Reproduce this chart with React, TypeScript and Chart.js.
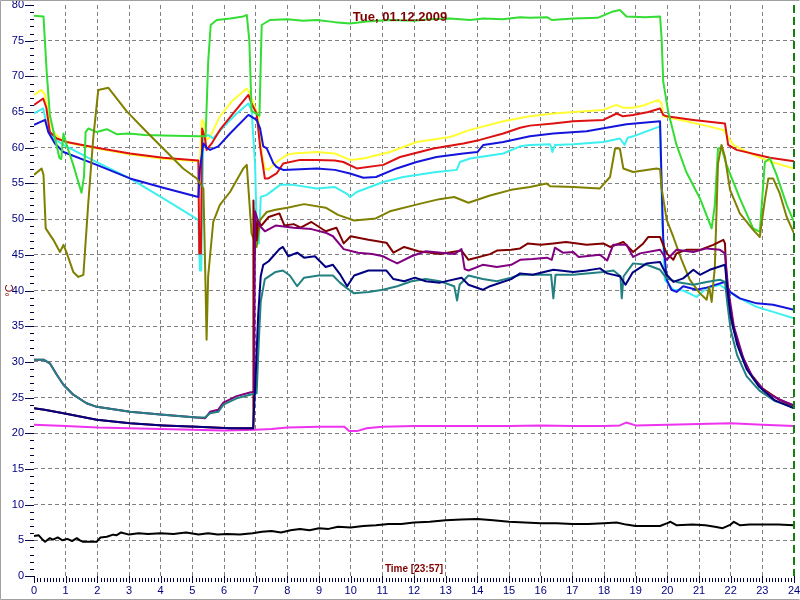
import React, { useEffect, useRef } from "react";
import { Chart, registerables } from "chart.js";

Chart.register(...registerables);

const TITLE = "Tue, 01.12.2009";
const X_TITLE = "Time [23:57]";
const Y_TITLE = "°C";
const X_MIN = 0;
const X_MAX = 24;
const Y_MIN = 0;
const Y_MAX = 80;
const X_TICK_LABELS = Array.from({ length: 25 }, (_, i) => String(i));
const Y_TICK_LABELS = ["0", "5", "10", "15", "20", "25", "30", "35", "40", "45", "50", "55", "60", "65", "70", "75", "80"];
const CURSOR_HOUR = 24;

type P = [number, number];

const GREEN: P[] = [
  [0, 78.5], [0.3, 78.4], [0.4, 70.7], [0.5, 64.6], [0.66, 61.4], [0.8, 58.6], [0.86, 58.4], [0.93, 62], [1.03, 60.4],
  [1.24, 57.6], [1.5, 53.7], [1.58, 56], [1.63, 62.2], [1.72, 62.7], [1.98, 62.2], [2.3, 62.6], [2.61, 61.9], [3.0, 62.0],
  [3.5, 61.8], [4.08, 61.7], [5.19, 61.6], [5.42, 61.6], [5.5, 72], [5.58, 77.2], [5.77, 77.9], [6.2, 78.1], [6.61, 78.4],
  [6.72, 78.6], [6.8, 75], [6.87, 65.2], [7.0, 64.8], [7.12, 64.5], [7.19, 77.2], [7.45, 77.9], [8.0, 78.0], [8.5, 77.8],
  [8.93, 77.9], [9.5, 77.6], [9.98, 77.4], [10.5, 77.7], [11.24, 77.9], [12.0, 77.8], [12.5, 78.0], [13.14, 78.1],
  [13.77, 77.9], [14.19, 78.1], [14.8, 78.0], [15.35, 78.3], [15.66, 78.2], [16.2, 78.3], [16.35, 77.9], [17.03, 78.1],
  [17.8, 78.2], [18.29, 79.1], [18.5, 79.3], [18.71, 78.4], [19.3, 78.3], [19.77, 78.4], [19.82, 75.3], [19.87, 69.3],
  [20.03, 65], [20.29, 60.4], [20.6, 56.6], [21.03, 52.9], [21.4, 48.7], [21.5, 52], [21.6, 59.9], [21.71, 60],
  [21.87, 57.6], [22.29, 52.9], [22.71, 48.7], [22.92, 48.2], [23.08, 58], [23.24, 58.5], [23.45, 56.2], [23.77, 52], [24, 49.6],
];

const YELLOW: P[] = [
  [0, 67.4], [0.24, 68.1], [0.35, 67.4], [0.45, 64.6], [0.61, 62.2], [0.87, 61.1], [1.2, 60.6], [2.0, 59.9], [3.0, 59.1],
  [4.0, 58.5], [5.19, 58.1], [5.24, 58.3], [5.3, 63.9], [5.36, 63.5], [5.45, 61.1], [5.56, 61.5], [5.87, 64.4], [6.29, 66.7],
  [6.72, 68.3], [6.82, 67.6], [7.08, 64.4], [7.2, 59], [7.29, 57.1], [7.4, 56.9], [7.66, 58.0], [7.98, 59.0], [8.19, 59.2],
  [8.93, 59.4], [9.5, 59.2], [9.98, 58.3], [10.4, 58.5], [11.24, 59.4], [12.08, 60.8], [13.14, 61.5], [13.77, 62.5],
  [14.82, 63.7], [15.66, 64.4], [16.4, 64.8], [17.03, 65.0], [17.98, 65.3], [18.4, 66.0], [18.6, 65.6], [18.92, 65.6],
  [19.3, 66.0], [19.71, 66.7], [19.82, 66.2], [19.87, 64.4], [20.6, 63.7], [21.2, 63.1], [21.77, 62.5], [22.08, 60.4],
  [22.71, 59.0], [23.3, 58.0], [24, 57.1],
];

const RED: P[] = [
  [0, 66], [0.29, 66.9], [0.39, 65.6], [0.5, 62.2], [0.72, 61.3], [1.03, 60.8], [1.98, 60.0], [3.03, 59.2], [4.08, 58.6],
  [5.19, 58.2], [5.22, 45.2], [5.27, 45.2], [5.31, 62.7], [5.4, 61.3], [5.45, 59.7], [5.61, 60.6], [5.87, 62.5],
  [6.29, 64.8], [6.77, 67.4], [6.87, 66.2], [7.03, 64.8], [7.14, 60.2], [7.29, 55.7], [7.4, 55.7], [7.66, 56.4],
  [7.87, 57.8], [8.4, 58.3], [8.93, 58.3], [9.5, 58.2], [9.77, 58.0], [10.19, 57.1], [11.03, 57.6], [11.56, 58.7],
  [12.61, 59.9], [13.56, 60.6], [14.08, 61.1], [14.82, 62.0], [15.35, 62.8], [15.66, 63.1], [16.4, 63.4], [17.03, 63.7],
  [17.98, 63.9], [18.4, 64.8], [18.6, 64.4], [18.92, 64.6], [19.4, 65.0], [19.77, 65.5], [19.87, 64.6], [19.98, 64.4],
  [20.82, 63.9], [21.82, 63.4], [21.92, 60.4], [22.19, 59.7], [23.24, 58.6], [24, 58.1],
];

const CYAN: P[] = [
  [0, 64.8], [0.29, 65.5], [0.4, 63.2], [0.61, 61.3], [0.93, 60.4], [1.98, 58.0], [3.03, 55.7], [4.08, 52.9], [5.19, 49.9],
  [5.24, 42.8], [5.28, 42.8], [5.35, 61.5], [5.5, 61.8], [5.66, 61.3], [5.98, 62.9], [6.4, 64.8], [6.77, 66.2], [6.87, 65.3],
  [6.98, 57.8], [7.03, 49.4], [7.1, 46.6], [7.16, 53.1], [7.35, 53.4], [7.77, 54.8], [8.19, 54.8], [8.93, 54.3], [9.5, 54.5],
  [9.9, 53.5], [9.98, 53.1], [10.19, 53.8], [11.03, 55.2], [11.66, 55.9], [12.71, 56.6], [13.35, 56.9], [13.45, 58.0],
  [13.77, 58.5], [14.82, 59.2], [15.35, 60.2], [15.66, 60.4], [16.3, 60.5], [16.37, 59.4], [16.45, 60.4], [17.03, 60.5],
  [17.98, 60.8], [18.5, 61.3], [18.65, 60.4], [18.75, 61.4], [18.92, 61.6], [19.77, 63.0], [19.84, 49.4], [19.92, 41.5],
  [20.19, 40.1], [20.5, 40.0], [20.92, 39.1], [21.24, 40.3], [21.66, 40.8], [21.87, 40.1], [22.19, 39.1], [22.82, 37.7],
  [23.34, 37.0], [24, 36.1],
];

const BLUE: P[] = [
  [0, 63.2], [0.35, 63.9], [0.45, 62.2], [0.66, 60.6], [0.93, 59.4], [1.98, 57.6], [3.03, 55.7], [4.08, 54.4], [5.19, 53.1],
  [5.24, 57.1], [5.35, 60.6], [5.45, 60.0], [5.56, 59.7], [5.82, 60.2], [6.19, 62.0], [6.77, 64.6], [7.03, 63.9],
  [7.14, 62.7], [7.24, 60.2], [7.35, 59.9], [7.56, 57.8], [7.66, 57.3], [7.87, 56.9], [8.93, 57.1], [9.5, 56.9],
  [9.98, 56.4], [10.4, 55.8], [10.8, 55.9], [11.45, 57.1], [12.08, 58.0], [12.71, 58.7], [13.56, 59.2], [14.0, 59.4],
  [14.19, 60.4], [14.82, 60.8], [15.66, 61.6], [16.4, 62.0], [17.45, 62.3], [18.71, 63.3], [19.77, 63.7], [19.82, 55],
  [19.87, 47.3], [19.98, 41.5], [20.13, 40.1], [20.29, 39.8], [20.5, 40.6], [20.92, 40.1], [21.24, 40.4], [21.66, 41.0],
  [21.82, 41.2], [21.98, 39.8], [22.29, 38.9], [22.82, 38.2], [23.34, 38.0], [24, 37.3],
];

const OLIVE: P[] = [
  [0, 56.2], [0.24, 57.1], [0.3, 56.2], [0.37, 48.7], [0.61, 47.1], [0.82, 45.4], [0.93, 46.4], [1.03, 45.3], [1.24, 42.6],
  [1.4, 41.9], [1.56, 42.2], [1.71, 52], [1.87, 61.3], [2.03, 68.1], [2.35, 68.4], [2.93, 65.1], [3.56, 62.2], [4.08, 59.9],
  [4.71, 57.1], [5.14, 55.7], [5.35, 54.3], [5.42, 40], [5.45, 33.1], [5.5, 42], [5.66, 49.6], [5.87, 52.0], [6.19, 53.8],
  [6.61, 57.1], [6.72, 57.6], [6.87, 48.0], [7.03, 46.1], [7.14, 49.9], [7.35, 51.0], [7.63, 51.3], [8.0, 51.6],
  [8.53, 52.1], [9.21, 51.6], [9.6, 50.6], [10.11, 49.8], [10.79, 50.1], [11.24, 51.1], [12.14, 52.1], [12.8, 52.8],
  [13.27, 53.1], [13.72, 52.3], [14.4, 53.3], [15.07, 54.1], [15.66, 54.5], [16.19, 55.0], [16.3, 54.6], [17.03, 54.5],
  [17.87, 54.3], [18.19, 55.9], [18.35, 59.9], [18.5, 59.9], [18.61, 57.1], [18.92, 56.6], [19.66, 57.1], [19.77, 57.0],
  [19.82, 54.3], [19.98, 49.9], [20.19, 47.5], [20.45, 44.3], [20.71, 41.5], [21.03, 39.6], [21.24, 38.7], [21.32, 40.5],
  [21.4, 38.4], [21.5, 43.3], [21.6, 57.8], [21.71, 60.4], [21.82, 58.7], [21.98, 54.1], [22.29, 50.8], [22.71, 48.5],
  [22.92, 47.5], [23.08, 52.7], [23.19, 55.7], [23.34, 55.7], [23.55, 53.6], [23.77, 50.3], [24, 48.0],
];

const NAVY: P[] = [
  [0, 23.5], [0.33, 23.3], [0.93, 22.8], [1.98, 21.9], [3.03, 21.4], [4.08, 21.1], [5.14, 20.9], [6.19, 20.7], [6.92, 20.7],
  [7.0, 28], [7.08, 36.6], [7.16, 42], [7.24, 43.6], [7.41, 44.1], [7.75, 45.8], [7.86, 46.1], [8.03, 44.8], [8.31, 45.3],
  [8.53, 44.6], [8.87, 44.8], [9.21, 43.3], [9.44, 43.6], [9.66, 42.3], [9.89, 40.6], [10.11, 42.1], [10.56, 42.8],
  [11.13, 42.8], [11.35, 41.6], [11.69, 41.3], [12.03, 41.8], [12.37, 41.3], [12.82, 41.1], [13.5, 41.8], [13.72, 40.8],
  [14.17, 40.1], [14.4, 40.6], [15.07, 41.6], [15.35, 42.4], [15.75, 42.2], [16.4, 42.9], [17.03, 42.6], [17.45, 42.8],
  [17.87, 43.1], [18.1, 42.4], [18.5, 42.0], [18.68, 40.8], [18.9, 42.5], [19.35, 43.8], [19.77, 44.0], [19.88, 43.0],
  [19.98, 42.2], [20.19, 41.2], [20.5, 41.7], [20.82, 42.9], [21.03, 42.2], [21.34, 42.9], [21.82, 43.6], [21.9, 40],
  [22.0, 36.5], [22.2, 32.5], [22.5, 29], [22.9, 26.5], [23.4, 24.6], [24, 23.5],
];

const MAROON: P[] = [
  [0, 23.5], [0.33, 23.3], [0.93, 22.8], [1.98, 21.9], [3.03, 21.4], [4.08, 21.1], [5.14, 20.9], [6.19, 20.7], [6.92, 20.7],
  [6.93, 52.6], [6.97, 45], [7.0, 50], [7.03, 47], [7.07, 49.6], [7.18, 49.1], [7.41, 50.3], [7.75, 50.8], [7.91, 49.1],
  [8.2, 49.3], [8.42, 48.8], [8.76, 49.6], [9.21, 48.3], [9.55, 48.8], [9.78, 46.6], [10.0, 47.6], [10.56, 47.1],
  [11.13, 46.7], [11.35, 45.3], [11.69, 46.1], [12.14, 45.5], [12.82, 45.1], [13.5, 45.6], [13.72, 44.3], [14.4, 45.1],
  [14.62, 45.6], [15.07, 45.7], [15.35, 45.9], [15.6, 46.6], [16.0, 46.4], [16.4, 46.6], [16.8, 46.8], [17.45, 46.4],
  [17.98, 46.6], [18.19, 46.1], [18.61, 46.8], [18.92, 45.4], [19.24, 46.6], [19.4, 47.5], [19.77, 47.5], [19.85, 46.6],
  [19.98, 45.2], [20.19, 44.3], [20.29, 45.2], [20.6, 45.7], [21.03, 45.7], [21.45, 46.4], [21.77, 47.1], [21.82, 46.6],
  [21.87, 41.5], [21.98, 36.8], [22.08, 34.7], [22.3, 31.5], [22.6, 28.5], [23.0, 26.3], [23.5, 24.8], [24, 23.7],
];

const PURPLE: P[] = [
  [0, 30.3], [0.3, 30.3], [0.5, 29.8], [0.72, 28.2], [0.93, 26.8], [1.24, 25.4], [1.66, 24.2], [1.98, 23.7], [3.03, 23.0],
  [4.08, 22.6], [5.14, 22.2], [5.4, 22.1], [5.56, 23.0], [5.82, 23.3], [5.98, 24.3], [6.4, 25.2], [6.82, 25.7], [6.95, 25.8],
  [6.98, 51.1], [7.12, 49.1], [7.29, 48.3], [7.63, 49.1], [8.2, 48.8], [8.76, 48.6], [9.21, 48.1], [9.44, 47.6], [9.78, 45.8],
  [10.23, 45.3], [10.68, 45.1], [11.02, 44.8], [11.24, 44.3], [11.47, 43.8], [11.92, 44.8], [12.37, 45.5], [13.27, 45.1],
  [13.5, 45.8], [13.6, 43.0], [13.72, 42.8], [14.17, 43.6], [14.62, 43.3], [15.07, 43.6], [15.35, 44.3], [15.75, 44.4],
  [16.2, 44.6], [16.35, 44.3], [16.45, 46.0], [16.7, 45.3], [17.03, 45.4], [17.2, 44.7], [17.87, 45.0], [18.1, 44.2],
  [18.29, 46.4], [18.71, 46.4], [18.92, 44.7], [19.14, 45.2], [19.77, 45.7], [19.98, 44.3], [20.29, 45.7], [20.82, 45.4],
  [21.24, 45.9], [21.66, 45.7], [21.82, 45.2], [21.92, 40.3], [22.1, 35], [22.4, 30.5], [22.7, 27.8], [23.1, 25.8],
  [23.5, 24.8], [24, 23.9],
];

const TEAL: P[] = [
  [0, 30.3], [0.3, 30.3], [0.5, 29.8], [0.72, 28.2], [0.93, 26.8], [1.24, 25.4], [1.66, 24.2], [1.98, 23.7], [3.03, 23.0],
  [4.08, 22.6], [5.14, 22.2], [5.4, 22.2], [5.56, 22.8], [5.82, 23.0], [5.98, 24.0], [6.4, 24.9], [6.82, 25.4], [7.03, 25.6],
  [7.1, 33], [7.16, 38.5], [7.29, 41.6], [7.63, 42.6], [7.86, 42.8], [8.08, 42.1], [8.31, 40.6], [8.53, 41.8], [8.99, 42.1],
  [9.44, 42.1], [9.66, 41.1], [9.89, 40.3], [10.11, 39.6], [10.56, 39.8], [11.02, 40.1], [11.47, 40.6], [11.92, 41.3],
  [12.37, 41.6], [12.82, 41.3], [13.27, 40.6], [13.36, 38.6], [13.44, 40.8], [13.72, 42.1], [14.17, 41.6], [14.62, 41.3],
  [15.07, 41.8], [15.35, 42.2], [16.33, 42.2], [16.4, 38.9], [16.47, 42.2], [17.03, 42.2], [17.98, 42.6], [18.3, 42.8],
  [18.52, 42.0], [18.56, 38.9], [18.62, 42.0], [18.92, 43.8], [19.35, 43.6], [19.77, 42.9], [19.98, 41.7], [20.29, 41.2],
  [20.82, 40.8], [21.24, 41.2], [21.66, 41.5], [21.82, 41.2], [21.9, 38], [22.0, 34.5], [22.2, 31], [22.5, 28], [22.9, 26],
  [23.4, 24.5], [24, 23.6],
];

const MAGENTA: P[] = [
  [0, 21.2], [1, 21.0], [2, 20.8], [3, 20.7], [4, 20.6], [5, 20.5], [6, 20.4], [7, 20.5], [7.5, 20.6], [8, 20.8], [9, 20.9],
  [9.8, 20.9], [9.95, 20.3], [10.2, 20.3], [10.5, 20.7], [11, 20.9], [12, 21.0], [13, 21.0], [14, 21.0], [15, 21.0],
  [16, 21.1], [17, 21.0], [18, 21.0], [18.5, 21.1], [18.7, 21.5], [19, 21.1], [20, 21.2], [21, 21.3], [22, 21.4], [23, 21.2],
  [24, 21.0],
];

const BLACK: P[] = [
  [0, 5.6], [0.15, 5.7], [0.25, 5.2], [0.35, 4.8], [0.5, 5.3], [0.6, 5.1], [0.75, 5.4], [0.9, 5.0], [1.05, 5.2], [1.2, 4.9],
  [1.35, 5.3], [1.45, 5.0], [1.55, 4.8], [1.98, 4.8], [2.1, 5.4], [2.3, 5.5], [2.5, 5.8], [2.6, 5.7], [2.75, 6.1], [3.0, 5.8],
  [3.3, 6.0], [3.6, 5.9], [4.0, 6.0], [4.4, 5.9], [4.8, 6.1], [5.2, 5.8], [5.5, 6.0], [5.8, 5.8], [6.1, 5.9], [6.5, 5.8],
  [6.9, 6.0], [7.2, 6.2], [7.5, 6.3], [7.8, 6.1], [8.1, 6.4], [8.4, 6.6], [8.7, 6.4], [9.0, 6.7], [9.3, 6.6], [9.6, 6.9],
  [10.0, 6.8], [10.4, 7.0], [10.8, 7.1], [11.2, 7.3], [11.6, 7.3], [12.0, 7.5], [12.5, 7.6], [13.0, 7.8], [13.5, 7.9],
  [14.0, 8.0], [14.5, 7.8], [15.0, 7.6], [15.5, 7.5], [16.0, 7.4], [16.5, 7.4], [17.0, 7.3], [17.5, 7.3], [18.0, 7.4],
  [18.4, 7.5], [18.7, 7.2], [19.0, 7.0], [19.5, 7.0], [19.77, 7.0], [20.0, 7.4], [20.1, 7.6], [20.3, 7.1], [20.8, 7.2],
  [21.2, 7.1], [21.5, 6.9], [21.75, 6.7], [22.0, 7.2], [22.1, 7.6], [22.3, 7.1], [22.6, 7.2], [23.0, 7.2], [23.5, 7.2],
  [24, 7.1],
];

// top-most first (Chart.js draws dataset 0 last)
const SERIES: { data: P[]; color: string }[] = [
  { data: BLACK, color: "#000000" },
  { data: NAVY, color: "#000080" },
  { data: TEAL, color: "#238080" },
  { data: PURPLE, color: "#800080" },
  { data: MAROON, color: "#800000" },
  { data: MAGENTA, color: "#ee33ee" },
  { data: OLIVE, color: "#808000" },
  { data: GREEN, color: "#33dd33" },
  { data: BLUE, color: "#1414dc" },
  { data: RED, color: "#dd1111" },
  { data: CYAN, color: "#3cf0f0" },
  { data: YELLOW, color: "#ffff33" },
];

const FONT = '"Liberation Sans", Arial, sans-serif';

const decorPlugin = {
  id: "decor",
  beforeDraw(chart: any) {
    const { ctx, width, height } = chart;
    ctx.save();
    ctx.fillStyle = "#ffffff";
    ctx.fillRect(0, 0, width, height);
    ctx.restore();
  },
  afterDraw(chart: any) {
    const { ctx, chartArea, scales, width, height } = chart;
    const xs = scales.x;
    const ys = scales.y;
    ctx.save();
    ctx.setLineDash([]);
    ctx.lineWidth = 1;
    ctx.strokeStyle = "#000040";
    // y ticks
    for (let v = Y_MIN; v <= Y_MAX; v += 1) {
      const y = Math.round(ys.getPixelForValue(v)) + 0.5;
      const major = v % 5 === 0;
      ctx.beginPath();
      ctx.moveTo(chartArea.left - (major ? 9 : 4), y);
      ctx.lineTo(chartArea.left, y);
      ctx.stroke();
    }
    // x ticks
    for (let i = X_MIN * 10; i <= X_MAX * 10; i += 1) {
      const x = Math.round(xs.getPixelForValue(i / 10)) + 0.5;
      const major = i % 10 === 0;
      ctx.beginPath();
      ctx.moveTo(x, chartArea.bottom + (major ? 0 : 2));
      ctx.lineTo(x, chartArea.bottom + (major ? 7 : 6));
      ctx.stroke();
    }
    // tick labels
    ctx.fillStyle = "#000080";
    ctx.font = `11px ${FONT}`;
    ctx.textAlign = "right";
    ctx.textBaseline = "middle";
    Y_TICK_LABELS.forEach((lab) => {
      const y = ys.getPixelForValue(Number(lab));
      ctx.fillText(lab, chartArea.left - 10, y);
    });
    ctx.textAlign = "center";
    X_TICK_LABELS.forEach((lab) => {
      const x = xs.getPixelForValue(Number(lab));
      ctx.fillText(lab, x, chartArea.bottom + 15);
    });
    // cursor line
    ctx.strokeStyle = "#108010";
    ctx.lineWidth = 2;
    ctx.setLineDash([8, 4]);
    const cx = xs.getPixelForValue(CURSOR_HOUR);
    ctx.beginPath();
    ctx.moveTo(cx, chartArea.top);
    ctx.lineTo(cx, chartArea.bottom);
    ctx.stroke();
    ctx.setLineDash([]);
    // titles
    ctx.fillStyle = "#800000";
    ctx.font = `bold 13px ${FONT}`;
    ctx.textAlign = "center";
    ctx.fillText(TITLE, width / 2, 17);
    ctx.font = `bold 10px ${FONT}`;
    ctx.fillText(X_TITLE, (chartArea.left + chartArea.right) / 2, chartArea.bottom - 7);
    ctx.save();
    ctx.translate(10, (chartArea.top + chartArea.bottom) / 2);
    ctx.rotate(-Math.PI / 2);
    ctx.font = `11px ${FONT}`;
    ctx.fillText(Y_TITLE, 0, 0);
    ctx.restore();
    // frame
    ctx.strokeStyle = "#a0a0a0";
    ctx.lineWidth = 1;
    ctx.beginPath();
    ctx.moveTo(0.5, height - 0.5);
    ctx.lineTo(0.5, 0.5);
    ctx.lineTo(width - 0.5, 0.5);
    ctx.moveTo(0.5, height - 0.5);
    ctx.lineTo(width - 0.5, height - 0.5);
    ctx.stroke();
    ctx.restore();
  },
};

export default function App() {
  const ref = useRef<HTMLCanvasElement | null>(null);
  useEffect(() => {
    if (!ref.current) return;
    const gridColor = (max: number) => (c: any) =>
      c.tick && (c.tick.value === 0 || c.tick.value === max) ? "rgba(0,0,0,0)" : "#808080";
    const chart = new Chart(ref.current, {
      type: "line",
      data: {
        datasets: SERIES.map((s) => ({
          data: s.data.map(([x, y]) => ({ x, y })),
          borderColor: s.color,
          backgroundColor: s.color,
          borderWidth: 2,
          pointRadius: 0,
          tension: 0,
          fill: false,
          borderJoinStyle: "round",
        })),
      },
      options: {
        animation: false,
        responsive: false,
        devicePixelRatio: 1,
        layout: { padding: { left: 0, right: 6, top: 5, bottom: 0 } },
        plugins: { legend: { display: false }, tooltip: { enabled: false }, title: { display: false } },
        scales: {
          x: {
            type: "linear",
            min: X_MIN,
            max: X_MAX,
            ticks: { display: false, stepSize: 1 },
            grid: { color: gridColor(X_MAX), drawTicks: false, lineWidth: 1 },
            border: { display: false, dash: [4, 3] },
            afterFit: (s: any) => {
              s.height = 24;
            },
          },
          y: {
            type: "linear",
            min: Y_MIN,
            max: Y_MAX,
            ticks: { display: false, stepSize: 5 },
            grid: { color: gridColor(Y_MAX), drawTicks: false, lineWidth: 1 },
            border: { display: false, dash: [4, 3] },
            afterFit: (s: any) => {
              s.width = 34;
            },
          },
        },
      },
      plugins: [decorPlugin],
    });
    return () => chart.destroy();
  }, []);
  return (
    <div style={{ position: "absolute", left: 0, top: 0, width: 800, height: 600 }}>
      <canvas ref={ref} width={800} height={600} style={{ display: "block" }} />
    </div>
  );
}
